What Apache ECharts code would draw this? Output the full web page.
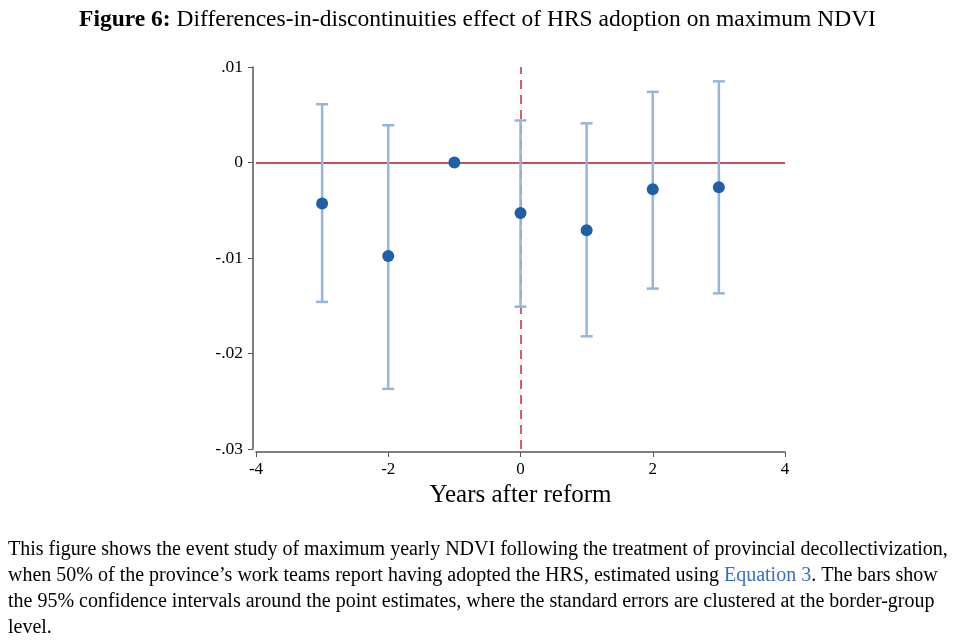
<!DOCTYPE html>
<html><head><meta charset="utf-8">
<script src="https://cdn.jsdelivr.net/npm/echarts@6/dist/echarts.min.js"></script>
<style>html,body{margin:0;padding:0;background:#fff}#c{width:955px;height:641px}</style>
</head><body><div id="c"></div>
<script>
const years = [-3, -2, -1, 0, 1, 2, 3];
const estimates = [-0.0043, -0.0098, 0.0, -0.0053, -0.0071, -0.0028, -0.0026];
const ciLow = [-0.0146, -0.0237, 0.0, -0.0151, -0.0182, -0.0132, -0.0137];
const ciHigh = [0.0061, 0.0039, 0.0, 0.0044, 0.0041, 0.0074, 0.0085];
const xTicks = [-4, -2, 0, 2, 4];
const yTickLabels = {"0.01": ".01", "0": "0", "-0.01": "-.01", "-0.02": "-.02", "-0.03": "-.03"};

const serif = "'Liberation Serif', 'DejaVu Serif', serif";
const chart = echarts.init(document.getElementById('c'));
const errData = years.map((y, i) => [y, ciLow[i], ciHigh[i]]).filter(d => d[1] !== d[2]);
const ptData = years.map((y, i) => [y, estimates[i]]);

chart.setOption({
  animation: false,
  backgroundColor: '#fff',
  title: {
    text: '{b|Figure 6:} Differences-in-discontinuities effect of HRS adoption on maximum NDVI',
    left: 'center', top: 3,
    textStyle: {
      fontFamily: serif, fontSize: 23.5, fontWeight: 'normal', color: '#000',
      rich: { b: { fontFamily: serif, fontSize: 23.5, fontWeight: 'bold', color: '#000' } }
    }
  },
  grid: { left: 256, top: 67, width: 529, height: 382 },
  xAxis: {
    type: 'value', min: -4, max: 4, interval: 2, offset: 3,
    name: 'Years after reform', nameLocation: 'middle', nameGap: 30,
    nameTextStyle: { fontFamily: serif, fontSize: 25, color: '#000' },
    axisLine: { show: true, onZero: false, lineStyle: { color: '#555', width: 1.5 } },
    axisTick: { show: true, length: 5, lineStyle: { color: '#555' } },
    axisLabel: { fontFamily: serif, fontSize: 17, color: '#000', margin: 9 },
    splitLine: { show: false }
  },
  yAxis: {
    type: 'value', min: -0.03, max: 0.01, interval: 0.01, offset: 3,
    axisLine: { show: true, onZero: false, lineStyle: { color: '#555', width: 1.5 } },
    axisTick: { show: true, length: 5, lineStyle: { color: '#555' } },
    axisLabel: {
      fontFamily: serif, fontSize: 17.5, color: '#000', margin: 10,
      formatter: v => { const k = String(Math.round(v * 100) / 100); return yTickLabels[k] !== undefined ? yTickLabels[k] : k; }
    },
    splitLine: { show: false }
  },
  series: [
    {
      type: 'line', data: [], silent: true, z: 1,
      markLine: {
        symbol: 'none', silent: true, label: { show: false }, z: 1,
        data: [
          { yAxis: 0, lineStyle: { color: '#c0505f', width: 2, type: 'solid' } },
          { xAxis: 0, lineStyle: { color: '#d0263b', width: 1.5, type: [9, 6] } }
        ]
      }
    },
    {
      type: 'custom',
      data: errData,
      z: 8,
      renderItem: (params, api) => {
        const x = api.value(0);
        const lo = api.coord([x, api.value(1)]);
        const hi = api.coord([x, api.value(2)]);
        const cw = 6;
        const st = { stroke: '#94b6dc', lineWidth: 2.5 };
        return {
          type: 'group',
          children: [
            { type: 'line', shape: { x1: lo[0], y1: lo[1], x2: hi[0], y2: hi[1] }, style: st },
            { type: 'line', shape: { x1: lo[0] - cw, y1: lo[1], x2: lo[0] + cw, y2: lo[1] }, style: st },
            { type: 'line', shape: { x1: hi[0] - cw, y1: hi[1], x2: hi[0] + cw, y2: hi[1] }, style: st }
          ]
        };
      }
    },
    {
      type: 'scatter', data: ptData, symbol: 'circle', symbolSize: 12,
      itemStyle: { color: '#1f5fa8', opacity: 1 }, z: 10
    }
  ],
  graphic: [
    {
      type: 'text', left: 8, top: 537,
      style: {
        text: 'This figure shows the event study of maximum yearly NDVI following the treatment of provincial decollectivization,\nwhen 50% of the province\u2019s work teams report having adopted the HRS, estimated using {l|Equation 3}. The bars show\nthe 95% confidence intervals around the point estimates, where the standard errors are clustered at the border-group\nlevel.',
        fontFamily: serif, fontSize: 20, lineHeight: 26, fill: '#000',
        rich: { l: { fontFamily: serif, fontSize: 20, lineHeight: 26, fill: '#3a6fbf', color: '#3a6fbf' } }
      }
    }
  ]
});
</script></body></html>
